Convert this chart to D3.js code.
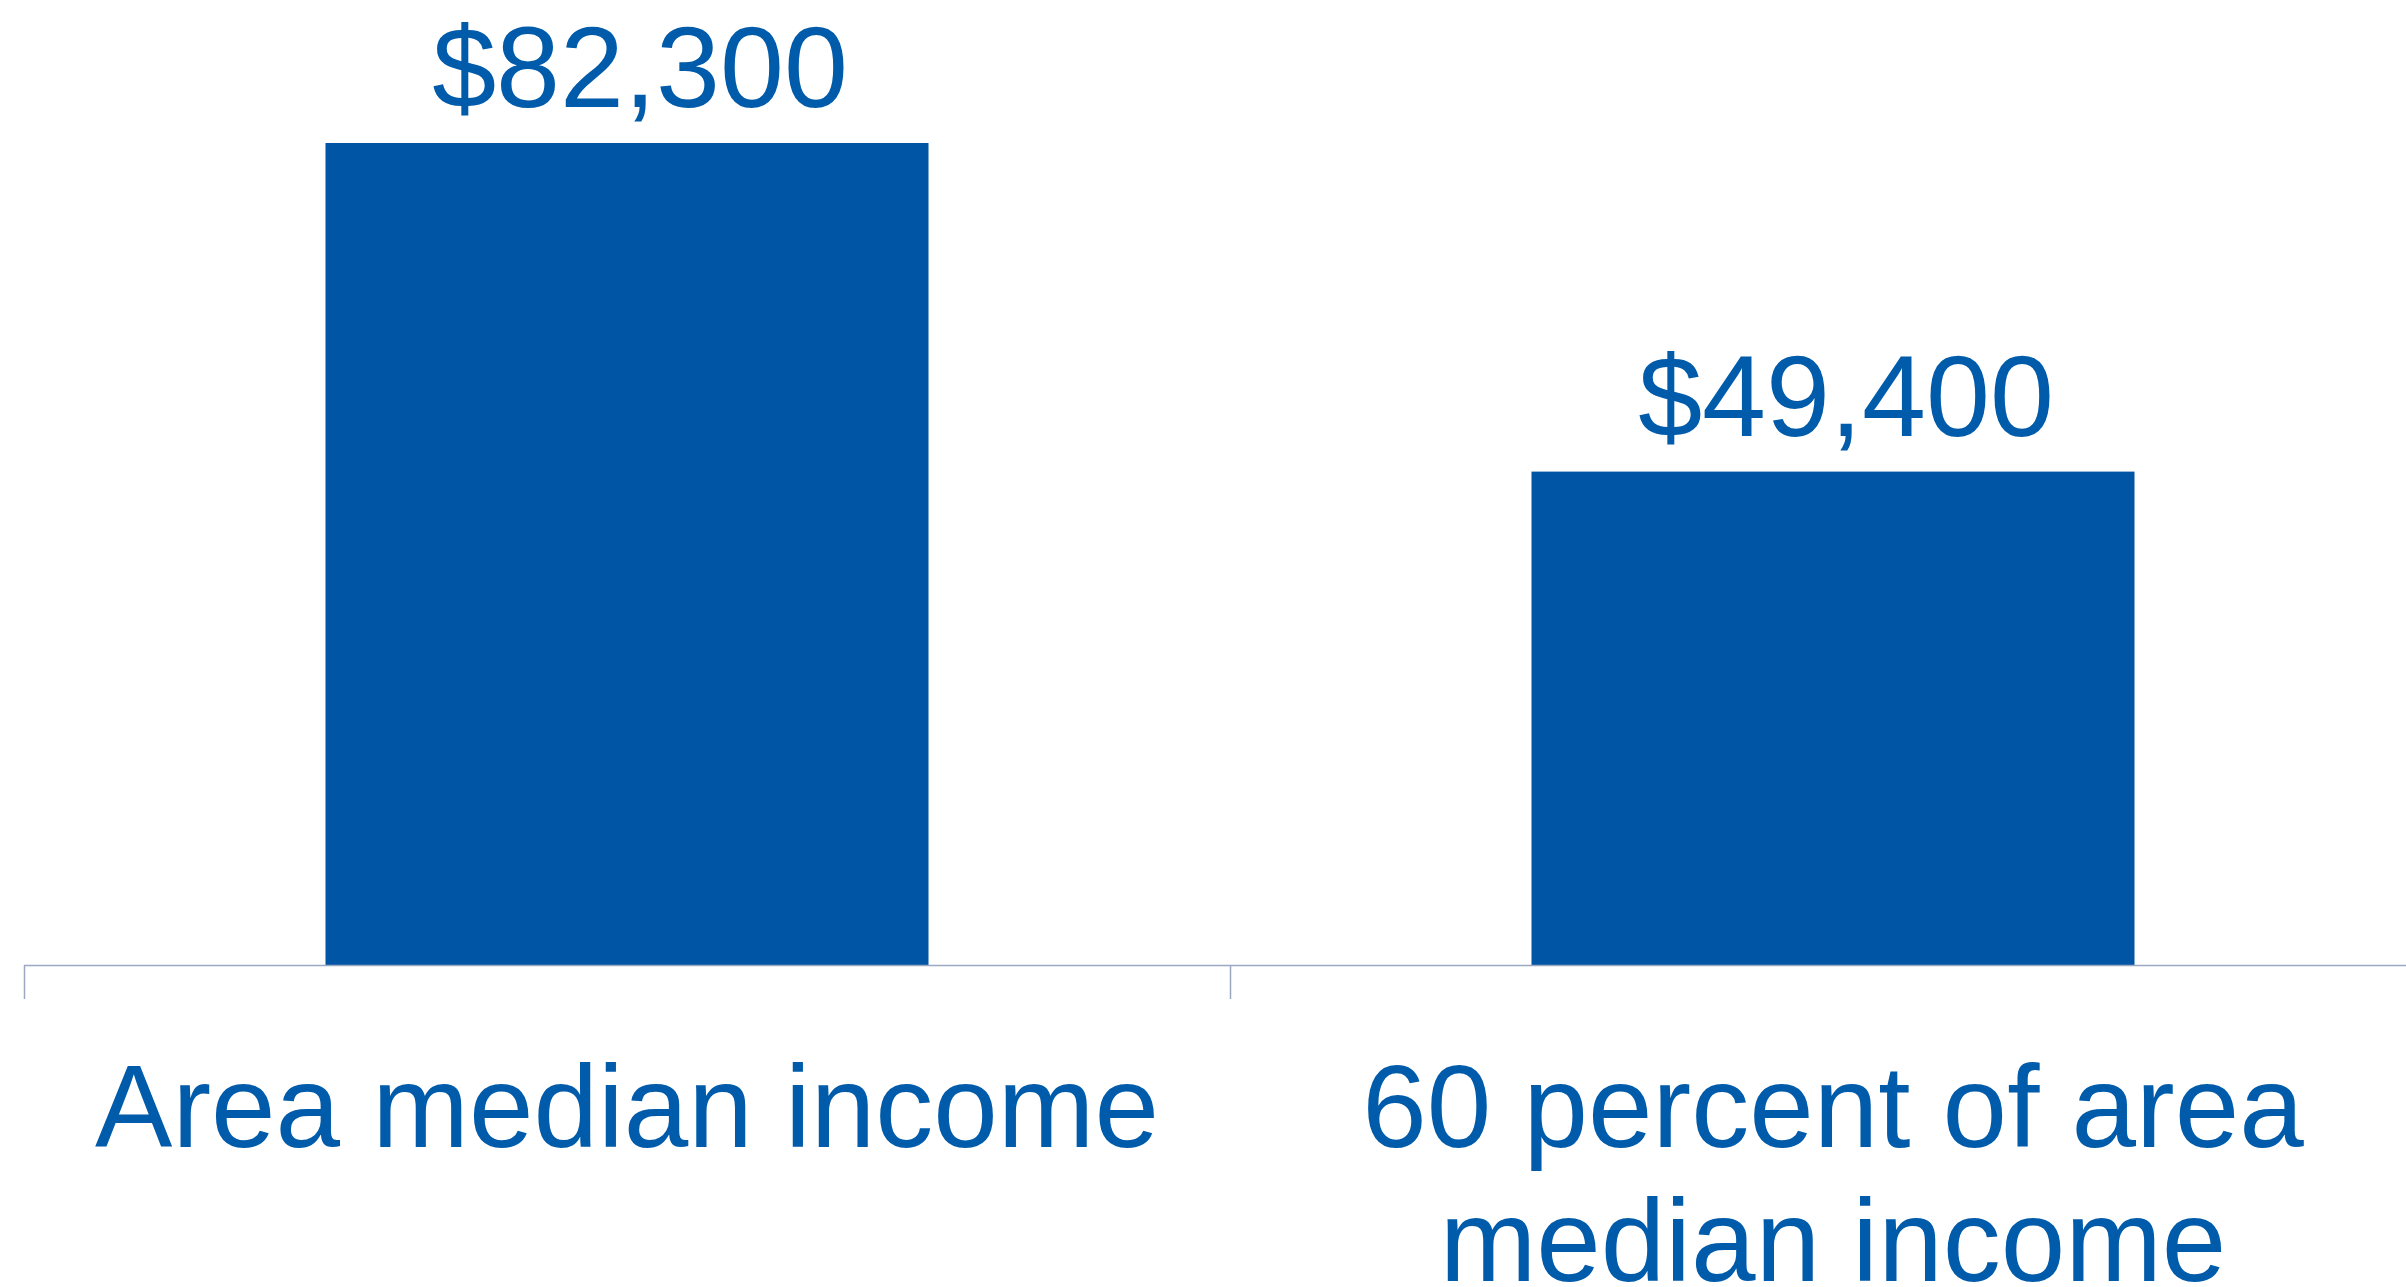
<!DOCTYPE html>
<html>
<head>
<meta charset="utf-8">
<script src="https://cdn.jsdelivr.net/npm/d3@7"></script>
<style>
  html, body { margin: 0; padding: 0; background: #ffffff; }
  svg { display: block; }
</style>
</head>
<body>
<svg id="chart" width="2406" height="1287"></svg>
<script>
const categories = ["Area median income", "60 percent of area median income"];
const values = [82300, 49400];
const valueLabels = ["$82,300", "$49,400"];

const W = 2406, H = 1287;
const svg = d3.select("#chart");
const fontFam = "'Liberation Sans', Arial, Helvetica, sans-serif";
const barColor = "#0055a4";
const textColor = "#005baa";

const x = d3.scaleBand()
  .domain(categories)
  .range([24, 2436])
  .paddingInner(0.5)
  .paddingOuter(0.25);

const y = d3.scaleLinear()
  .domain([0, 82300])
  .range([965, 143]);

// bars
svg.selectAll("rect.bar")
  .data(categories)
  .join("rect")
  .attr("class", "bar")
  .attr("x", d => x(d))
  .attr("width", x.bandwidth())
  .attr("y", (d, i) => y(values[i]))
  .attr("height", (d, i) => y(0) - y(values[i]))
  .attr("fill", barColor);

// value labels
svg.selectAll("text.val")
  .data(categories)
  .join("text")
  .attr("class", "val")
  .attr("x", d => x(d) + x.bandwidth() / 2 + 13)
  .attr("y", (d, i) => y(values[i]) - 36)
  .attr("text-anchor", "middle")
  .attr("font-family", fontFam)
  .attr("font-size", 115)
  .attr("fill", textColor)
  .text((d, i) => valueLabels[i]);

// axis line and ticks at band boundaries
const axisColor = "#9ba8c2";
svg.append("line")
  .attr("x1", x.range()[0]).attr("x2", W)
  .attr("y1", y(0) + 0.5).attr("y2", y(0) + 0.5)
  .attr("stroke", axisColor).attr("stroke-width", 1.5);

const boundaries = [x.range()[0], x(categories[1]) - x.step() * x.paddingInner() / 2];
svg.selectAll("line.tick")
  .data(boundaries)
  .join("line")
  .attr("class", "tick")
  .attr("x1", d => d + 0.5).attr("x2", d => d + 0.5)
  .attr("y1", y(0)).attr("y2", y(0) + 34)
  .attr("stroke", axisColor).attr("stroke-width", 1.5);

// category labels with wrapping
const maxWidth = 1120;
const lineHeight = 134;
categories.forEach((cat, i) => {
  const cx = x(cat) + x.bandwidth() / 2;
  const t = svg.append("text")
    .attr("x", cx)
    .attr("y", 1147)
    .attr("text-anchor", "middle")
    .attr("font-family", fontFam)
    .attr("font-size", 116)
    .attr("fill", textColor);
  const words = cat.split(" ");
  let line = [];
  let tspan = t.append("tspan").attr("x", cx).attr("dy", 0);
  words.forEach(w => {
    line.push(w);
    tspan.text(line.join(" "));
    if (tspan.node().getComputedTextLength() > maxWidth && line.length > 1) {
      line.pop();
      tspan.text(line.join(" "));
      line = [w];
      tspan = t.append("tspan").attr("x", cx).attr("dy", lineHeight).text(w);
    }
  });
});
</script>
</body>
</html>
